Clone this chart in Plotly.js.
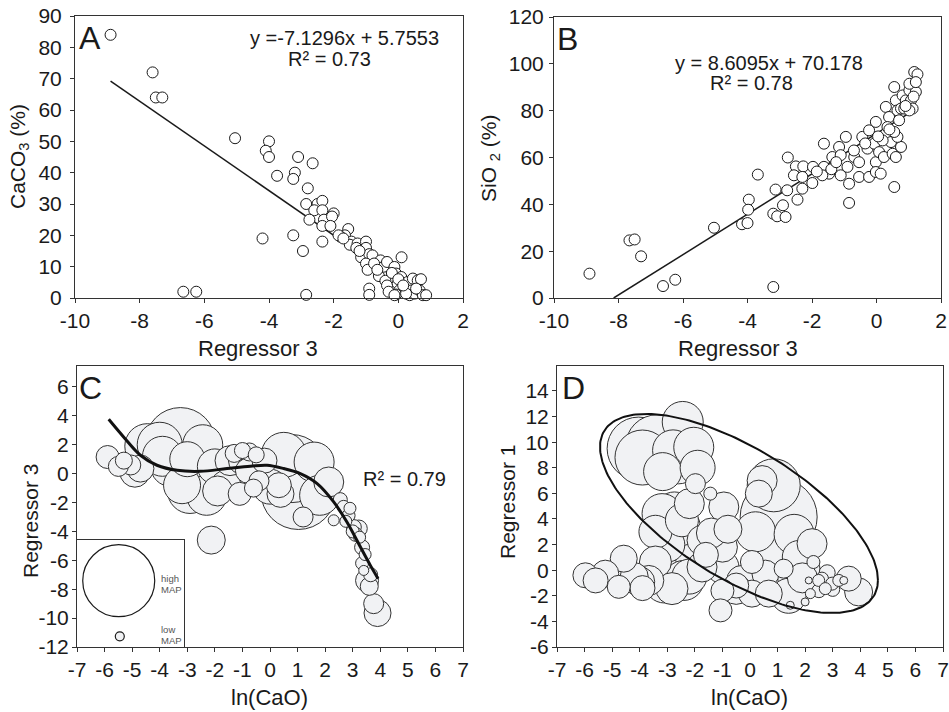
<!DOCTYPE html>
<html>
<head>
<meta charset="utf-8">
<script src="https://cdn.plot.ly/plotly-3.0.1.min.js"></script>
<style>html,body{margin:0;padding:0;background:#fff;}#chart{width:949px;height:712px;}</style>
</head>
<body>
<div id="chart"></div>
<script>
// ---------- Panel A: CaCO3 vs Regressor 3 ----------
const aX = [-8.9,-7.6,-7.5,-7.3,-5.05,-4.0,-4.1,-4.0,-3.1,-2.65,-3.75,-3.2,-3.25,-2.8,-2.85,-2.5,-2.35,-2.6,-2.35,-2.75,-2.3,-2.35,-2.0,-2.05,-2.1,-2.35,-4.2,-3.25,-2.95,-6.65,-6.25,-2.85,
  -1.55,-1.65,-1.78,-1.45,-1.5,-1.26,-1.0,-1.0,-1.15,-0.9,-0.8,-1.0,-0.95,-0.9,-0.9,-0.55,-0.6,-0.45,-0.35,-0.4,-0.35,-0.3,-0.12,-0.07,0.09,0.1,-0.02,0.03,-0.07,-0.12,0.19,0.29,0.45,0.6,0.7,0.4,0.35,0.5,0.66,0.76,0.86,0.24,
  -1.85,-1.7,-1.3,-1.2,-0.75,-0.65,-0.2,0.0,0.15,0.55];
const aY = [84,72,64,64,51,50,47,45,45,43,39,40,38,35,30,30,31,28,28,25,25,23,27,26,23,18,19,20,15,2,2,1,
  22,20,19.5,18,17,17.4,18,16,13,14,13.6,11,9,3,1,12,7,10,11.5,5.5,4,2,9.9,7.8,6.7,13,4.6,2.4,1.1,0.9,3.5,5.1,6.2,5.6,6,2.4,0.9,1.4,2.4,0.9,0.9,1.4,
  20,19,16,15,11,9,8,6,4,3];
const trendAX = [-8.9, 0.8];
const trendAY = [69.2, 0.05];
const tickAX = [-10, -8, -6, -4, -2, 0, 2];
const tickAXText = ['-10', '-8', '-6', '-4', '-2', '0', '2'];
const tickAY = [0, 10, 20, 30, 40, 50, 60, 70, 80, 90];

// ---------- Panel B: SiO2 vs Regressor 3 ----------
const bX = [-8.9,-7.66,-7.5,-7.3,-6.62,-6.24,-5.04,-3.2,-4.17,-4.0,-3.96,-3.98,-3.68,-3.13,-3.2,-3.08,-2.9,-2.82,-2.77,-2.75,-2.5,-2.56,-2.45,-2.3,-2.27,-2.3,-1.99,-1.97,-1.63,-1.63,-1.47,-1.68,-1.37,-1.16,-1.11,-1.11,-0.95,-0.9,-0.85,-0.85,-0.69,-0.54,-0.54,-0.44,-0.28,-0.23,-0.23,-0.02,-0.07,-0.02,-0.02,0.13,0.08,0.23,0.29,0.29,0.39,0.45,0.5,0.55,0.55,0.6,0.65,0.7,0.76,0.81,0.91,1.02,1.07,1.12,1.22,1.17,1.27,1.02,1.22,0.65,0.55,0.34,0.19,0.6,0.76,0.86,1.02,
  -1.85,-1.4,-1.25,-0.7,-0.35,0.05,0.4,0.9,1.15];
const bY = [10.4,24.6,25,17.8,5.1,7.8,30,4.7,31.5,32,42,37.7,52.7,46.3,36,34.9,39.6,34.6,46,60,56.2,52.4,42,46.7,56.2,51.7,49.1,56,65.9,56,53.1,52.4,60.2,64.5,61,52.4,68.8,56,48.8,40.6,60.2,58,51.7,68.8,63.8,51.7,71.6,75.2,65.9,58,53.8,53.1,62.3,60.2,70.2,81.6,77.3,66.6,61.6,47.4,90.1,84.4,80.1,75.9,64.5,86.5,84.4,88.7,84.4,80.9,88,96.5,95.5,91.5,92.2,68.8,70.9,73,67.3,60.2,80.9,80.9,80.1,
  54,55,58,63,66,69,72,82,86];
const trendBX = [-8.15, 1.15];
const trendBY = [0, 80.1];
const tickBY = [0, 20, 40, 60, 80, 100, 120];

// ---------- Panel C: Regressor 3 vs ln(CaO), bubble = MAP ----------
const cX = [-5.89,-5.3,-5.05,-4.7,-4.45,-4.0,-3.25,-2.44,-3.0,-3.19,-2.6,-2.2,-2.0,-1.6,-1.3,-1.0,-0.75,-0.5,-1.1,-0.8,-0.4,-0.6,0.8,1.03,1.6,0.32,0.38,1.2,2.13,2.31,2.55,2.67,2.85,2.9,3.04,3.22,3.1,3.34,3.34,3.4,3.52,3.6,3.76,3.9,-2.13,-1.9,-0.2,
  -3.6,-2.9,-2.3,-3.9,-4.9,-5.5,-1.45,-1.0,-0.6,0.5,1.8,0.0,2.75,3.0,3.25,3.45,3.65];
const cY = [1.15,0.9,0.6,0.35,1.9,2.0,2.15,2.0,1.0,-0.8,-0.3,-0.5,0.5,-0.8,1.4,1.6,1.5,1.3,-1.4,0.2,-0.5,-1.0,0.35,-1.27,0.8,-0.8,-1.4,-3.0,-0.58,-3.23,-1.8,-2.3,-2.9,-2.4,-3.7,-3.8,-4.2,-5.1,-6.2,-6.7,-7.4,-7.8,-9.0,-9.65,-4.6,-1.2,0.9,
  0.5,-1.2,-1.5,1.2,0.1,0.5,0.9,0.9,0.5,1.3,-1.5,-0.9,-3.3,-4.0,-4.4,-5.6,-7.0];
const cMAP = [460,340,400,540,900,900,1400,800,700,740,1200,1000,700,600,360,320,360,320,460,500,400,360,1360,1500,800,500,540,400,600,220,280,260,260,240,300,340,280,300,260,200,460,360,400,540,560,600,500,
  800,900,800,800,600,400,600,560,560,900,800,700,240,260,240,240,280];
const curveCX = [-5.85,-5.31,-4.70,-4.10,-3.37,-2.53,-1.56,-0.71,-0.11,0.50,1.10,1.71,2.31,2.79,3.28,3.64,3.92];
const curveCY = [3.76,2.54,1.27,0.58,0.23,0.16,0.35,0.51,0.58,0.35,0.0,-0.69,-1.96,-3.35,-5.08,-6.35,-7.27];
const legendMAP = [1440, 180];
const tickCX = [-7, -6, -5, -4, -3, -2, -1, 0, 1, 2, 3, 4, 5, 6, 7];
const tickCXText = ['-7', '-6', '-5', '-4', '-3', '-2', '-1', '0', '1', '2', '3', '4', '5', '6', '7'];
const tickCY = [-12, -10, -8, -6, -4, -2, 0, 2, 4, 6];
const tickCYText = ['-12', '-10', '-8', '-6', '-4', '-2', '0', '2', '4', '6'];

// ---------- Panel D: Regressor 1 vs ln(CaO), bubble = MAP ----------
const dX = [-4.04,-3.37,-2.44,-2.79,-2.04,-3.17,-1.98,-2.74,-3.19,-3.43,-2.47,-1.44,-0.95,-1.2,-1.0,-1.74,-2.47,1.04,0.86,0.44,0.32,2.25,1.77,2.3,1.22,0.07,0.56,-4.58,-5.97,-5.25,-4.76,-3.43,-2.83,-3.67,-1.74,-1.0,-1.0,-1.07,0.07,0.68,1.16,1.46,2.0,2.19,2.49,2.73,2.61,2.98,3.22,3.4,3.58,3.94,2.13,-4.2,-2.2,-2.2,-0.3,1.0,-1.6,-3.9,-0.5,1.9,
  -3.9,-2.6,-1.9,-2.2,-3.0,-2.0,-1.4,-0.8,0.2,1.6,1.9,0.3,-0.5,-3.1,-2.4,-4.0,-5.6,1.4,2.5,3.0,2.8];
const dY = [9.5,9.68,11.58,9.36,9.6,7.7,6.76,4.55,4.42,3.0,3.9,5.98,4.94,2.6,1.8,2.33,3.38,4.16,6.63,7.0,5.98,2.07,1.03,0.64,0.12,0.64,-0.27,0.9,-0.4,-0.27,-1.3,0.64,-1.44,-0.8,0.25,0.25,-1.6,-3.14,-1.83,-1.83,-1.18,-2.74,-2.48,-1.83,-0.8,-1.44,-0.66,-1.05,-0.8,-0.8,-0.66,-1.7,-0.8,-0.5,-0.5,0.3,-0.8,1.0,1.2,-1.4,-1.2,-0.6,
  8.8,8.5,8.0,5.2,2.0,1.2,2.9,3.2,3.0,2.8,0.1,-1.0,-1.5,-1.0,-0.8,-0.9,-0.8,-2.0,-1.6,-1.5,-0.2];
const dMAP = [1260,1260,820,820,800,760,400,800,800,660,660,260,600,600,600,600,740,1540,1060,600,540,600,660,260,380,460,540,540,500,540,460,640,640,600,600,660,460,460,540,540,800,160,160,200,240,240,260,260,240,160,500,560,140,560,700,800,600,900,500,500,500,600,
  1100,900,700,600,700,800,600,560,800,800,700,800,600,800,800,600,500,700,280,280,320];
// confidence ellipse parameters (data units): centre and two conjugate semi-diameters
const ellipseCenter = [-0.4, 4.43];
const ellipseU = [5.04, -5.2];
const ellipseV = [0, 5.78];
const tickDY = [-6, -4, -2, 0, 2, 4, 6, 8, 10, 12, 14];
const tickDYText = ['-6', '-4', '-2', '0', '2', '4', '6', '8', '10', '12', '14'];

// ---------- helpers ----------
const W = 949, H = 712;
const px = v => v / W;
const py = v => 1 - v / H;
const FONT = '"Liberation Sans", Arial, Helvetica, sans-serif';
const INK = '#1a1a1a';
const BUBBLE = '#f1f2f4';
const SIZEREF = 20;

function sortBySizeDesc(x, y, s) {
  const idx = s.map((v, i) => i).sort((a, b) => s[b] - s[a]);
  return { x: idx.map(i => x[i]), y: idx.map(i => y[i]), s: idx.map(i => s[i]) };
}
const cs = sortBySizeDesc(cX, cY, cMAP);
const ds = sortBySizeDesc(dX, dY, dMAP);

const ellX = [], ellY = [];
for (let k = 0; k <= 240; k++) {
  const t = 2 * Math.PI * k / 240;
  ellX.push(ellipseCenter[0] + ellipseU[0] * Math.cos(t) + ellipseV[0] * Math.sin(t));
  ellY.push(ellipseCenter[1] + ellipseU[1] * Math.cos(t) + ellipseV[1] * Math.sin(t));
}

const openMarker = { size: 11, color: '#ffffff', line: { color: INK, width: 1 } };

const traces = [
  { type: 'scatter', mode: 'lines', x: trendAX, y: trendAY, xaxis: 'x', yaxis: 'y', line: { color: INK, width: 1.5 } },
  { type: 'scatter', mode: 'markers', x: aX, y: aY, xaxis: 'x', yaxis: 'y', marker: openMarker, cliponaxis: false },
  { type: 'scatter', mode: 'lines', x: trendBX, y: trendBY, xaxis: 'x2', yaxis: 'y2', line: { color: INK, width: 1.5 } },
  { type: 'scatter', mode: 'markers', x: bX, y: bY, xaxis: 'x2', yaxis: 'y2', marker: openMarker, cliponaxis: false },
  { type: 'scatter', mode: 'markers', x: cs.x, y: cs.y, xaxis: 'x3', yaxis: 'y3',
    marker: { size: cs.s, sizemode: 'diameter', sizeref: SIZEREF, color: BUBBLE, opacity: 1, line: { color: '#333', width: 1 } }, cliponaxis: false },
  { type: 'scatter', mode: 'lines', x: curveCX, y: curveCY, xaxis: 'x3', yaxis: 'y3', line: { color: '#111', width: 3, shape: 'spline' } },
  { type: 'scatter', mode: 'markers', x: ds.x, y: ds.y, xaxis: 'x4', yaxis: 'y4',
    marker: { size: ds.s, sizemode: 'diameter', sizeref: SIZEREF, color: BUBBLE, opacity: 1, line: { color: '#333', width: 1 } }, cliponaxis: false },
  { type: 'scatter', mode: 'lines', x: ellX, y: ellY, xaxis: 'x4', yaxis: 'y4', line: { color: '#111', width: 2 } },
  { type: 'scatter', mode: 'markers', x: [0.39, 0.40], y: [0.62, 0.10], xaxis: 'x5', yaxis: 'y5',
    marker: { size: legendMAP, sizemode: 'diameter', sizeref: SIZEREF, color: ['#ffffff', BUBBLE], opacity: 1, line: { color: INK, width: 1.2 } }, cliponaxis: false }
];

function ax(opts) {
  return Object.assign({
    showline: true, mirror: true, linecolor: '#333', linewidth: 1,
    ticks: 'outside', ticklen: 4, tickcolor: '#333', tickwidth: 1,
    showgrid: false, zeroline: false, fixedrange: true, tickmode: 'array',
    tickfont: { family: FONT, size: 21, color: INK }
  }, opts);
}

const layout = {
  width: W, height: H,
  margin: { l: 0, r: 0, t: 0, b: 0 },
  paper_bgcolor: '#ffffff', plot_bgcolor: 'rgba(0,0,0,0)',
  showlegend: false,
  font: { family: FONT, color: INK },
  xaxis:  ax({ domain: [px(75), px(463)], range: [-10, 2], tickvals: tickAX, ticktext: tickAXText, anchor: 'y' }),
  yaxis:  ax({ domain: [py(298), py(16)], range: [0, 90], tickvals: tickAY, ticktext: tickAY.map(String), anchor: 'x', ticklabelstandoff: 4 }),
  xaxis2: ax({ domain: [px(554), px(941)], range: [-10, 2], tickvals: tickAX, ticktext: tickAXText, anchor: 'y2' }),
  yaxis2: ax({ domain: [py(298), py(17)], range: [0, 120], tickvals: tickBY, ticktext: tickBY.map(String), anchor: 'x2', ticklabelstandoff: 1 }),
  xaxis3: ax({ domain: [px(77), px(463)], range: [-7, 7], tickvals: tickCX, ticktext: tickCXText, anchor: 'y3' }),
  yaxis3: ax({ domain: [py(647), py(366)], range: [-12, 7.45], tickvals: tickCY, ticktext: tickCYText, anchor: 'x3', ticklabelstandoff: -1 }),
  xaxis4: ax({ domain: [px(557), px(943)], range: [-7, 7], tickvals: tickCX, ticktext: tickCXText, anchor: 'y4' }),
  yaxis4: ax({ domain: [py(647), py(366)], range: [-6, 15.95], tickvals: tickDY, ticktext: tickDYText, anchor: 'x4', ticklabelstandoff: -1 }),
  xaxis5: { domain: [px(77), px(184)], range: [0, 1], anchor: 'y5', showline: true, mirror: true, linecolor: '#333', linewidth: 1, showticklabels: false, ticks: '', showgrid: false, zeroline: false, fixedrange: true },
  yaxis5: { domain: [py(647), py(540)], range: [0, 1], anchor: 'x5', showline: true, mirror: true, linecolor: '#333', linewidth: 1, showticklabels: false, ticks: '', showgrid: false, zeroline: false, fixedrange: true },
  annotations: []
};

function txt(x, y, text, size, extra) {
  layout.annotations.push(Object.assign({
    xref: 'paper', yref: 'paper', x: px(x), y: py(y), text: text, showarrow: false,
    xanchor: 'center', yanchor: 'middle', font: { family: FONT, size: size, color: INK }
  }, extra || {}));
}
// panel letters
txt(77, 38, 'A', 32, { xanchor: 'left' });
txt(555, 39, 'B', 32, { xanchor: 'left' });
txt(77, 388, 'C', 32, { xanchor: 'left' });
txt(560, 388, 'D', 32, { xanchor: 'left' });
// regression labels
txt(344, 38, 'y =-7.1296x + 5.7553', 20);
txt(329, 59, 'R² = 0.73', 20);
txt(769, 63, 'y = 8.6095x + 70.178', 20);
txt(751, 83, 'R² = 0.78', 20);
txt(404, 479, 'R² = 0.79', 20);
// axis titles
txt(258, 348, 'Regressor 3', 22);
txt(738, 348, 'Regressor 3', 22);
txt(269, 697, 'ln(CaO)', 22);
txt(749, 697, 'ln(CaO)', 22);
txt(19, 157, 'CaCO<sub>3</sub> (%)', 21, { textangle: -90 });
txt(490, 158, 'SiO <sub>2</sub> (%)', 21, { textangle: -90 });
txt(30, 521, 'Regressor 3', 21, { textangle: -90 });
txt(507, 502, 'Regressor 1', 21, { textangle: -90 });
// inset legend text
const small = { xanchor: 'left', font: { family: FONT, size: 9.5, color: '#555' } };
txt(159, 578, 'high', 9.5, small);
txt(159, 589, 'MAP', 9.5, small);
txt(159, 629, 'low', 9.5, small);
txt(159, 640, 'MAP', 9.5, small);

Plotly.newPlot('chart', traces, layout, { staticPlot: true, displayModeBar: false });
</script>
</body>
</html>
